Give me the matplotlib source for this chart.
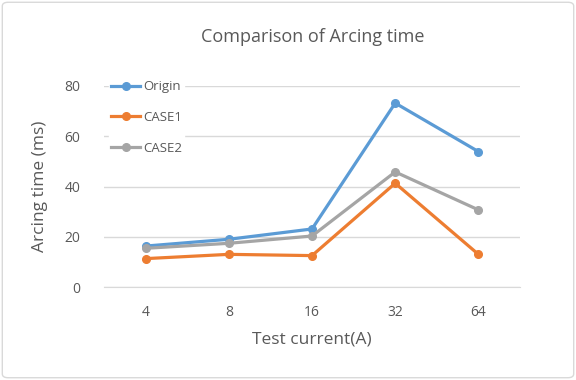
import matplotlib
matplotlib.use('Agg')
import matplotlib.pyplot as plt
from matplotlib.patches import FancyBboxPatch

categories = ['4', '8', '16', '32', '64']
origin = [16.3, 19.0, 23.1, 73.2, 53.9]
case1 = [11.3, 13.0, 12.5, 41.3, 13.0]
case2 = [15.4, 17.4, 20.3, 45.8, 30.7]
yticks = [0, 20, 40, 60, 80]

plt.rcParams['font.family'] = ['Open Sans', 'DejaVu Sans']
textColor = '#595959'

fig = plt.figure(figsize=(5.76, 3.8), dpi=100)
# ramka wykresu jak w Excelu
ramka = FancyBboxPatch((0.004, 0.006), 0.992, 0.988, boxstyle='round,pad=0,rounding_size=0.01',
                       transform=fig.transFigure, facecolor='white', edgecolor='#d9d9d9',
                       linewidth=1, zorder=-10)
fig.patches.append(ramka)

ax = fig.add_axes([0.1806, 0.2447, 0.7222, 0.529])
ax.set_zorder(5)
ax.patch.set_alpha(0)
x = list(range(len(categories)))
ax.plot(x, origin, color='#5B9BD5', linewidth=2.3, marker='o', markersize=5.5, label='Origin', zorder=3)
ax.plot(x, case1, color='#ED7D31', linewidth=2.3, marker='o', markersize=5.5, label='CASE1', zorder=3)
ax.plot(x, case2, color='#A5A5A5', linewidth=2.3, marker='o', markersize=5.5, label='CASE2', zorder=3)

ax.set_xlim(-0.5, len(categories) - 0.5)
ax.set_ylim(0, 80)
ax.set_yticks(yticks)
ax.set_xticks(x)
ax.set_xticklabels(categories)
ax.yaxis.grid(True, color='#d9d9d9', linewidth=1)
ax.set_axisbelow(True)
for s in ['top', 'right', 'left']:
    ax.spines[s].set_visible(False)
ax.spines['bottom'].set_color('#d9d9d9')
ax.tick_params(axis='both', length=0, labelsize=10, colors=textColor)
ax.tick_params(axis='x', pad=13)
ax.tick_params(axis='y', pad=17)

ax.set_xlabel('Test current(A)', fontsize=12.5, color=textColor)
ax.set_ylabel('Arcing time (ms)', fontsize=12.5, color=textColor)
ax.xaxis.set_label_coords(0.5, -0.259)
ax.yaxis.set_label_coords(-0.154, 0.5)
ax.xaxis.label.set_va('center')
ax.yaxis.label.set_va('center')
fig.text(0.5425, 0.903, 'Comparison of Arcing time', ha='center', va='center', fontsize=13, color=textColor)

leg = ax.legend(loc='upper left', bbox_to_anchor=(-0.005, 1.075), frameon=True, fontsize=9.5,
                handlelength=2.2, labelspacing=1.35, borderpad=0.2, handletextpad=0.2)
leg.get_frame().set_facecolor('white')
leg.get_frame().set_edgecolor('white')
leg.get_frame().set_alpha(1)
for t in leg.get_texts():
    t.set_color(textColor)

fig.savefig('out.png', dpi=100)
